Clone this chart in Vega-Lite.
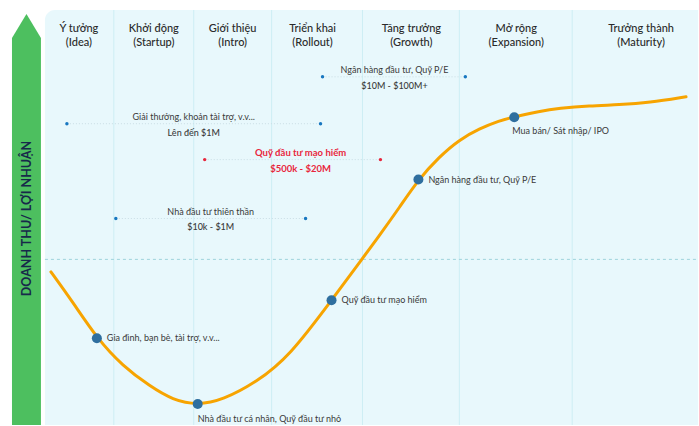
{
  "$schema": "https://vega.github.io/schema/vega-lite/v6.json",
  "autosize": {"type": "fit", "contains": "padding"},
  "width": 699,
  "height": 426,
  "padding": 0,
  "background": "#ffffff",
  "config": {"view": {"stroke": null}, "font": "Lato"},
  "datasets": {
    "arrow": [
      {"x": 12, "top": 38, "bottom": 426},
      {"x": 26.5, "top": 14, "bottom": 426},
      {"x": 41, "top": 38, "bottom": 426}
    ],
    "panel": [{"x": 45, "x2": 699, "y": 10, "y2": 426}],
    "dividers": [{"x": 114}, {"x": 194}, {"x": 272}, {"x": 363}, {"x": 460}, {"x": 573}],
    "baseline": [{"x": 45, "x2": 699, "y": 260}],
    "headers": [
      {"x": 79, "y": 29, "t": "Ý tưởng"}, {"x": 79, "y": 43, "t": "(Idea)"},
      {"x": 154, "y": 29, "t": "Khởi động"}, {"x": 154, "y": 43, "t": "(Startup)"},
      {"x": 233, "y": 29, "t": "Giới thiệu"}, {"x": 233, "y": 43, "t": "(Intro)"},
      {"x": 313, "y": 29, "t": "Triển khai"}, {"x": 313, "y": 43, "t": "(Rollout)"},
      {"x": 412, "y": 29, "t": "Tăng trưởng"}, {"x": 412, "y": 43, "t": "(Growth)"},
      {"x": 517, "y": 29, "t": "Mở rộng"}, {"x": 517, "y": 43, "t": "(Expansion)"},
      {"x": 642, "y": 29, "t": "Trưởng thành"}, {"x": 642, "y": 43, "t": "(Maturity)"}
    ],
    "curve": [
      {"x": 51, "y": 272.5}, {"x": 73, "y": 303}, {"x": 97, "y": 339}, {"x": 123, "y": 367},
      {"x": 150, "y": 387}, {"x": 173, "y": 401}, {"x": 198, "y": 406}, {"x": 223, "y": 401},
      {"x": 257, "y": 383}, {"x": 290, "y": 357}, {"x": 332, "y": 301}, {"x": 363, "y": 259},
      {"x": 380, "y": 236}, {"x": 400, "y": 208}, {"x": 419, "y": 180}, {"x": 440, "y": 157},
      {"x": 460, "y": 140}, {"x": 480, "y": 129}, {"x": 500, "y": 121}, {"x": 515, "y": 117},
      {"x": 540, "y": 111.5}, {"x": 560, "y": 108.5}, {"x": 590, "y": 106}, {"x": 620, "y": 105},
      {"x": 650, "y": 103}, {"x": 687, "y": 97}
    ],
    "milestones": [
      {"x": 97, "y": 339, "lx": 107, "ly": 339, "label": "Gia đình, bạn bè, tài trợ, v.v..."},
      {"x": 198, "y": 405, "lx": 198, "ly": 420, "label": "Nhà đầu tư cá nhân, Quỹ đầu tư nhỏ"},
      {"x": 332, "y": 301, "lx": 342, "ly": 301, "label": "Quỹ đầu tư mạo hiểm"},
      {"x": 419, "y": 180, "lx": 429, "ly": 180, "label": "Ngân hàng đầu tư, Quỹ P/E"},
      {"x": 515, "y": 117.5, "lx": 513, "ly": 131, "label": "Mua bán/ Sát nhập/ IPO"}
    ],
    "ranges": [
      {"x1": 323, "x2": 466, "y": 77, "cx": 395, "ty": 70, "ay": 86, "title": "Ngân hàng đầu tư, Quỹ P/E", "amount": "$10M - $100M+", "kind": "blue"},
      {"x1": 67, "x2": 321, "y": 124, "cx": 194, "ty": 117, "ay": 133, "title": "Giải thưởng, khoản tài trợ, v.v...", "amount": "Lên đến $1M", "kind": "blue"},
      {"x1": 205, "x2": 381, "y": 160, "cx": 301, "ty": 153, "ay": 169, "title": "Quỹ đầu tư mạo hiểm", "amount": "$500k - $20M", "kind": "red"},
      {"x1": 116, "x2": 306, "y": 219, "cx": 211, "ty": 212, "ay": 228, "title": "Nhà đầu tư thiên thần", "amount": "$10k - $1M", "kind": "blue"}
    ]
  },
  "layer": [
    {
      "data": {"name": "arrow"},
      "mark": {"type": "area", "color": "#4dbf5f", "opacity": 1},
      "encoding": {
        "x": {"field": "x", "type": "quantitative", "scale": {"domain": [0, 699], "nice": false, "zero": false}, "axis": null},
        "y": {"field": "top", "type": "quantitative", "scale": {"domain": [0, 426], "reverse": true, "nice": false, "zero": false}, "axis": null},
        "y2": {"field": "bottom"}
      }
    },
    {
      "data": {"values": [{"x": 27, "y": 219, "t": "DOANH THU/ LỢI NHUẬN"}]},
      "mark": {"type": "text", "angle": 270, "fontSize": 12.5, "fontWeight": "bold", "color": "#17294a", "align": "center", "baseline": "middle"},
      "encoding": {
        "x": {"field": "x", "type": "quantitative"},
        "y": {"field": "y", "type": "quantitative"},
        "text": {"field": "t"}
      }
    },
    {
      "data": {"name": "panel"},
      "mark": {"type": "rect", "color": "#e8f8fc", "cornerRadiusTopLeft": 10},
      "encoding": {
        "x": {"field": "x", "type": "quantitative"},
        "x2": {"field": "x2"},
        "y": {"field": "y", "type": "quantitative"},
        "y2": {"field": "y2"}
      }
    },
    {
      "data": {"name": "dividers"},
      "mark": {"type": "rule", "color": "#cdeef4", "strokeWidth": 1},
      "encoding": {
        "x": {"field": "x", "type": "quantitative"},
        "y": {"datum": 10, "type": "quantitative"},
        "y2": {"datum": 426}
      }
    },
    {
      "data": {"name": "baseline"},
      "mark": {"type": "rule", "color": "#9fd3dc", "strokeWidth": 1, "strokeDash": [3, 3]},
      "encoding": {
        "x": {"field": "x", "type": "quantitative"},
        "x2": {"field": "x2"},
        "y": {"field": "y", "type": "quantitative"}
      }
    },
    {
      "data": {"name": "headers"},
      "mark": {"type": "text", "fontSize": 11, "fontWeight": 500, "color": "#2a2a2a", "align": "center", "baseline": "middle"},
      "encoding": {
        "x": {"field": "x", "type": "quantitative"},
        "y": {"field": "y", "type": "quantitative"},
        "text": {"field": "t"}
      }
    },
    {
      "data": {"name": "ranges"},
      "mark": {"type": "rule", "color": "#c9dde4", "strokeWidth": 1, "strokeDash": [1, 2]},
      "encoding": {
        "x": {"field": "x1", "type": "quantitative"},
        "x2": {"field": "x2"},
        "y": {"field": "y", "type": "quantitative"}
      }
    },
    {
      "data": {"name": "ranges"},
      "transform": [{"fold": ["x1", "x2"], "as": ["end", "px"]}],
      "mark": {"type": "circle", "size": 12, "opacity": 1},
      "encoding": {
        "x": {"field": "px", "type": "quantitative"},
        "y": {"field": "y", "type": "quantitative"},
        "color": {"field": "kind", "type": "nominal", "scale": {"domain": ["blue", "red"], "range": ["#1877c0", "#e8263c"]}, "legend": null}
      }
    },
    {
      "data": {"name": "ranges"},
      "transform": [{"filter": "datum.kind == 'blue'"}],
      "mark": {"type": "text", "fontSize": 9, "color": "#3a3a3a", "align": "center", "baseline": "middle"},
      "encoding": {
        "x": {"field": "cx", "type": "quantitative"},
        "y": {"field": "ty", "type": "quantitative"},
        "text": {"field": "title"}
      }
    },
    {
      "data": {"name": "ranges"},
      "transform": [{"filter": "datum.kind == 'blue'"}],
      "mark": {"type": "text", "fontSize": 9, "fontWeight": 500, "color": "#3a3a3a", "align": "center", "baseline": "middle"},
      "encoding": {
        "x": {"field": "cx", "type": "quantitative"},
        "y": {"field": "ay", "type": "quantitative"},
        "text": {"field": "amount"}
      }
    },
    {
      "data": {"name": "ranges"},
      "transform": [{"filter": "datum.kind == 'red'"}],
      "mark": {"type": "text", "fontSize": 9.5, "fontWeight": "bold", "color": "#e8263c", "align": "center", "baseline": "middle"},
      "encoding": {
        "x": {"field": "cx", "type": "quantitative"},
        "y": {"field": "ty", "type": "quantitative"},
        "text": {"field": "title"}
      }
    },
    {
      "data": {"name": "ranges"},
      "transform": [{"filter": "datum.kind == 'red'"}],
      "mark": {"type": "text", "fontSize": 9.5, "fontWeight": "bold", "color": "#e8263c", "align": "center", "baseline": "middle"},
      "encoding": {
        "x": {"field": "cx", "type": "quantitative"},
        "y": {"field": "ay", "type": "quantitative"},
        "text": {"field": "amount"}
      }
    },
    {
      "data": {"name": "curve"},
      "mark": {"type": "line", "color": "#f7a400", "strokeWidth": 3, "interpolate": "basis", "strokeCap": "round"},
      "encoding": {
        "x": {"field": "x", "type": "quantitative"},
        "y": {"field": "y", "type": "quantitative"}
      }
    },
    {
      "data": {"name": "milestones"},
      "mark": {"type": "circle", "size": 100, "color": "#2f6f9f", "opacity": 1},
      "encoding": {
        "x": {"field": "x", "type": "quantitative"},
        "y": {"field": "y", "type": "quantitative"}
      }
    },
    {
      "data": {"name": "milestones"},
      "mark": {"type": "text", "fontSize": 9, "color": "#3a3a3a", "align": "left", "baseline": "middle"},
      "encoding": {
        "x": {"field": "lx", "type": "quantitative"},
        "y": {"field": "ly", "type": "quantitative"},
        "text": {"field": "label"}
      }
    }
  ]
}
